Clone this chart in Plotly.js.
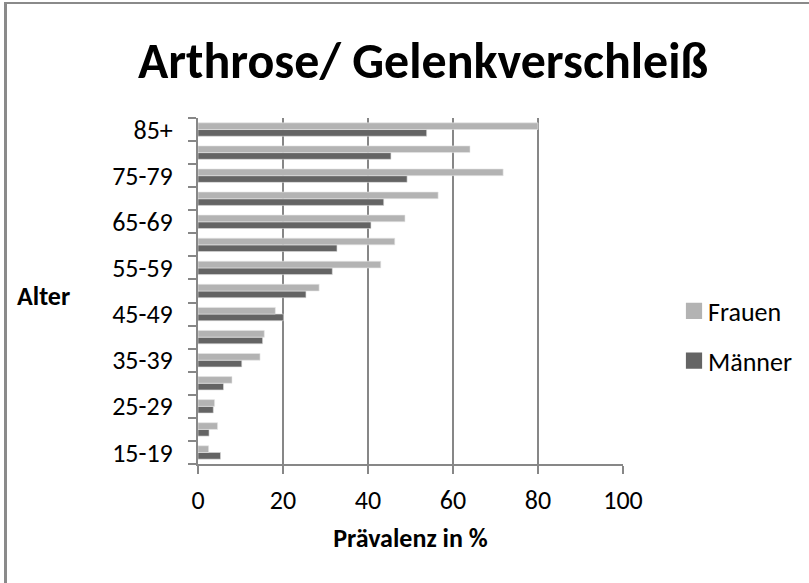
<!DOCTYPE html>
<html>
<head>
<meta charset="utf-8">
<script src="https://cdn.plot.ly/plotly-3.0.1.min.js"></script>
<style>
  html, body { margin: 0; padding: 0; background: #ffffff; }
  #wrap { position: relative; width: 809px; height: 583px; overflow: hidden; }
  #chart { position: absolute; left: 0; top: 0; width: 809px; height: 583px; }
  #frame { position: absolute; left: 4px; top: 2px; width: 820px; height: 600px;
           border-left: 3px solid #8a8a8a; border-top: 2px solid #8a8a8a; pointer-events: none; }
  /* legend swatches: larger squares as in the reference */
  #chart .legend .legendpoints path { transform: translate(26px, 0px) scale(1.35) !important; stroke-width: 0 !important; }
</style>
</head>
<body>
<div id="wrap">
  <div id="chart"></div>
  <div id="frame"></div>
</div>
<script>
// Age groups (bottom to top)
const categories = ['15-19','20-24','25-29','30-34','35-39','40-44','45-49','50-54',
                    '55-59','60-64','65-69','70-74','75-79','80-84','85+'];
// Tick labels shown on the category axis (every other group)
const yTickLabels = ['15-19','','25-29','','35-39','','45-49','',
                     '55-59','','65-69','','75-79','','85+'];
// Prevalence in %
const frauen = [2.5, 4.6, 3.9, 8.0, 14.6, 15.6, 18.2, 28.5, 43.0, 46.3, 48.7, 56.5, 71.8, 64.0, 80.0];
const maenner = [5.3, 2.6, 3.6, 6.0, 10.3, 15.2, 20.1, 25.4, 31.6, 32.7, 40.7, 43.7, 49.2, 45.4, 53.8];
const xTickVals = [0, 20, 40, 60, 80, 100];

const FONT = 'Carlito, Calibri, Lato, "Open Sans", sans-serif';
const GRID = '#878787';

const traces = [
  { type: 'bar', orientation: 'h', name: 'Männer', y: categories, x: maenner, legendgroup: 'm', legendrank: 2,
    marker: { color: '#646464', line: { color: '#dcdcdc', width: 0.6 } }, hoverinfo: 'x+y+name' },
  { type: 'bar', orientation: 'h', name: 'Frauen', y: categories, x: frauen, legendgroup: 'f', legendrank: 1,
    marker: { color: '#b3b3b3', line: { color: '#e6e6e6', width: 0.6 } }, hoverinfo: 'x+y+name' }
];

const layout = {
  width: 809, height: 583,
  paper_bgcolor: '#ffffff', plot_bgcolor: '#ffffff',
  margin: { l: 198, r: 185, t: 118, b: 119, pad: 0 },
  font: { family: FONT, size: 26, color: '#000000' },
  title: { text: '<b>Arthrose/ Gelenkverschleiß</b>', font: { family: FONT, size: 50, color: '#000000' },
           x: 0.523, xanchor: 'center', y: 0.897, yanchor: 'middle' },
  barmode: 'group', bargap: 0.42, bargroupgap: 0,
  showlegend: true,
  legend: { x: 1.1033, xanchor: 'left', y: 0.37, yanchor: 'middle', traceorder: 'grouped',
            font: { family: FONT, size: 26 }, tracegroupgap: 13,
            bgcolor: 'rgba(0,0,0,0)', itemwidth: 30 },
  xaxis: {
    range: [0, 100], tickmode: 'array', tickvals: xTickVals, ticktext: xTickVals.map(String),
    showgrid: true, gridcolor: GRID, gridwidth: 2, zeroline: false,
    showline: true, linecolor: GRID, linewidth: 2,
    ticks: 'outside', ticklen: 8, tickwidth: 2, tickcolor: GRID,
    tickfont: { family: FONT, size: 26 }, ticklabelstandoff: 4,
    title: { text: '<b>Prävalenz in %</b>', font: { family: FONT, size: 26 }, standoff: 14 },
    fixedrange: true
  },
  yaxis: {
    type: 'category', categoryorder: 'array', categoryarray: categories,
    tickmode: 'array', tickvals: categories, ticktext: yTickLabels, tickson: 'boundaries',
    showgrid: false, zeroline: false,
    showline: true, linecolor: GRID, linewidth: 2,
    ticks: 'outside', ticklen: 8, tickwidth: 2, tickcolor: GRID,
    tickfont: { family: FONT, size: 26 }, ticklabelstandoff: 18,
    fixedrange: true
  },
  annotations: [
    { text: '<b>Alter</b>', xref: 'paper', yref: 'paper', x: -0.4296, xanchor: 'left',
      y: 0.485, yanchor: 'middle', showarrow: false, font: { family: FONT, size: 26 } }
  ]
};

Plotly.newPlot('chart', traces, layout, { displayModeBar: false, staticPlot: true });
</script>
</body>
</html>
